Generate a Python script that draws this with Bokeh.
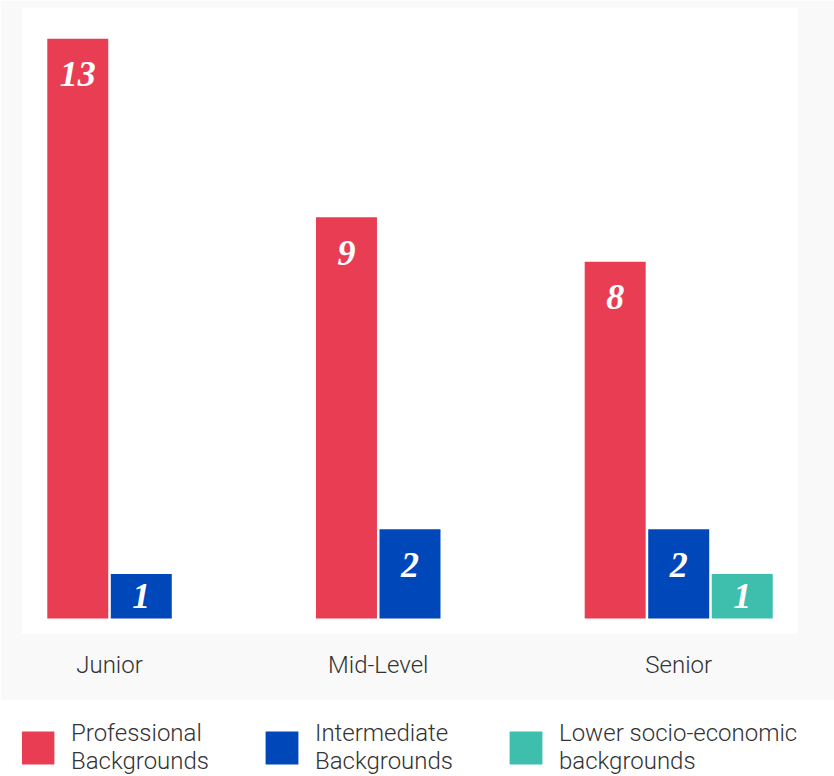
from bokeh.plotting import figure
from bokeh.layouts import column
from bokeh.models import FactorRange, ColumnDataSource, Range1d, Legend, LegendItem
from bokeh.core.properties import value
from bokeh.embed import file_html
from bokeh.resources import INLINE

categories = ["Junior", "Mid-Level", "Senior"]
series_keys = ["Professional", "Intermediate", "Lower"]
legend_labels = ["Professional\nBackgrounds", "Intermediate\nBackgrounds",
                 "Lower socio-economic\nbackgrounds"]
professional = [13, 9, 8]
intermediate = [1, 2, 2]
lower = [None, None, 1]
colors = ["#e83d53", "#0047b9", "#3ebead"]

series_values = [professional, intermediate, lower]

factors = []
for ci, c in enumerate(categories):
    for si, s in enumerate(series_keys):
        if series_values[si][ci] is not None:
            factors.append((c, s))

x_range = FactorRange(*factors, factor_padding=0.0, group_padding=2.23,
                      range_padding=0.37, range_padding_units="absolute")

p = figure(width=834, height=700, x_range=x_range, y_range=Range1d(-0.336, 13.68),
           output_backend="svg", toolbar_location=None, y_axis_location=None,
           min_border_left=22, min_border_right=37, min_border_top=8,
           min_border_bottom=67)
p.outline_line_color = None
p.xgrid.visible = False
p.ygrid.visible = False
p.background_fill_color = "white"
p.border_fill_color = "#f9f9f9"

for si, key in enumerate(series_keys):
    xs, tops, labels, ly = [], [], [], []
    for ci, c in enumerate(categories):
        v = series_values[si][ci]
        if v is None:
            continue
        xs.append((c, key))
        tops.append(v)
        labels.append(str(v))
        ly.append(max(v - 0.8, v / 2))
    src = ColumnDataSource(dict(x=xs, top=tops, label=labels, ly=ly))
    p.vbar(x="x", top="top", bottom=0, width=0.96, source=src,
           fill_color=colors[si], line_color=None)
    p.text(x="x", y="ly", text="label", source=src, text_color="white",
           text_align="center", text_baseline="middle",
           text_font=value("Liberation Serif"), text_font_style="bold italic",
           text_font_size="36px")

ax = p.xaxis[0]
ax.axis_line_color = None
ax.major_tick_line_color = None
ax.minor_tick_line_color = None
ax.major_tick_out = 0
ax.major_label_text_font_size = "0px"
ax.major_label_standoff = 17
ax.separator_line_color = None
ax.group_text_font = "Roboto Light"
ax.group_text_font_style = "normal"
ax.group_text_font_size = "24px"
ax.group_text_color = "#333333"
ax.group_label_orientation = "horizontal"

# legend panel (proxy renderers of zero height carry the series colours)
lp = figure(width=834, height=76, x_range=(0, 1), y_range=(0, 1),
            output_backend="svg", toolbar_location=None,
            x_axis_location=None, y_axis_location=None,
            min_border_left=22, min_border_right=37, min_border_top=0,
            min_border_bottom=0)
lp.outline_line_color = None
lp.grid.visible = False
items = []
for si, key in enumerate(series_keys):
    r = lp.vbar(x=[0.5], top=[0], bottom=0, width=0.01,
                fill_color=colors[si], line_color=None)
    items.append(LegendItem(label=legend_labels[si], renderers=[r]))
legend = Legend(items=items, orientation="horizontal", location=(-5, 1),
                glyph_width=41, glyph_height=41, label_standoff=13, spacing=52,
                label_text_font="Roboto Light", label_text_font_size="24px",
                label_text_color="#333333",
                padding=0, margin=0, border_line_color=None,
                background_fill_alpha=0)
lp.add_layout(legend, "center")

layout = column(p, lp, spacing=0)
open("out.html", "w").write(file_html(layout, INLINE))
